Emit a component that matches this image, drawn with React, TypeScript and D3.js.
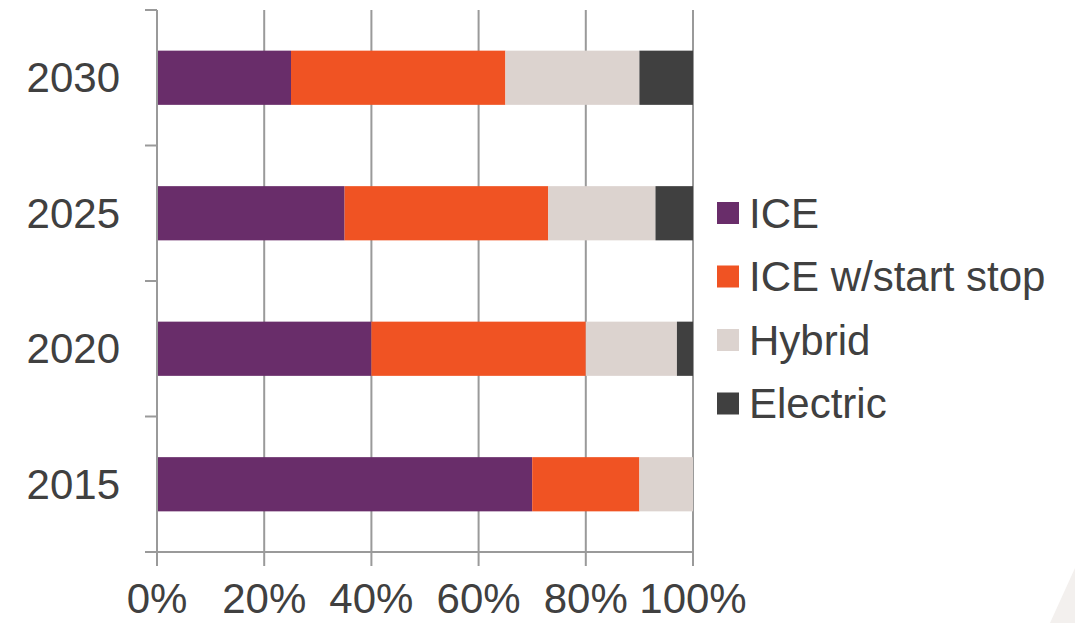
import React from "react";
import * as d3 from "d3";

const years = ["2030", "2025", "2020", "2015"];
const seriesNames = ["ICE", "ICE w/start stop", "Hybrid", "Electric"];
const iceShare = [25, 35, 40, 70];
const startStopShare = [40, 38, 40, 20];
const hybridShare = [25, 20, 17, 10];
const electricShare = [10, 7, 3, 0];
const seriesColors = ["#692d6a", "#f05323", "#dcd3cf", "#404040"];
const xTicks = [0, 20, 40, 60, 80, 100];

const W = 1075;
const H = 623;
const left = 157;
const right = 693;
const top = 10;
const bottom = 552;
const axisColor = "#9a9a9a";
const textColor = "#404040";
const font = "'Liberation Sans', Arial, sans-serif";

export default function App() {
  const rows = years.map((year, i) => ({
    year,
    ICE: iceShare[i],
    "ICE w/start stop": startStopShare[i],
    Hybrid: hybridShare[i],
    Electric: electricShare[i],
  }));
  const stacked = d3.stack<any>().keys(seriesNames)(rows);

  const x = d3.scaleLinear().domain([0, 100]).range([left, right]);
  const y = d3
    .scaleBand()
    .domain(years)
    .range([top, bottom])
    .paddingInner(0.6)
    .paddingOuter(0.3);
  const bandEdges = years.map((yr) => y(yr)! - (y.step() * y.paddingInner()) / 2);
  const tickYs = [top, ...bandEdges.slice(1), bottom];

  const legendX = 717;
  const legendY0 = 213;
  const legendStep = 63.5;

  return (
    <svg
      width={W}
      height={H}
      style={{ position: "absolute", left: 0, top: 0, background: "#fff" }}
      fontFamily={font}
    >
      <polygon points={`${W},568 ${W},${H} 1050,${H}`} fill="#f3f0ee" />
      {/* vertical gridlines */}
      {xTicks.slice(1).map((t) => (
        <line
          key={t}
          x1={x(t)}
          x2={x(t)}
          y1={top}
          y2={bottom + 14}
          stroke={axisColor}
          strokeWidth={2}
        />
      ))}
      {/* stacked bars */}
      {stacked.map((s, si) =>
        s.map((d, di) => (
          <rect
            key={`${si}-${di}`}
            x={x(d[0])}
            y={y(years[di])}
            width={x(d[1]) - x(d[0])}
            height={y.bandwidth()}
            fill={seriesColors[si]}
          />
        ))
      )}
      {/* y axis */}
      <line x1={left} x2={left} y1={top} y2={bottom + 14} stroke={axisColor} strokeWidth={2} />
      {tickYs.map((ty, i) => (
        <line key={i} x1={left - 12} x2={left} y1={ty} y2={ty} stroke={axisColor} strokeWidth={2} />
      ))}
      {/* x axis */}
      <line x1={left} x2={right} y1={bottom} y2={bottom} stroke={axisColor} strokeWidth={2} />
      {xTicks.map((t) => (
        <text
          key={t}
          x={x(t)}
          y={613}
          textAnchor="middle"
          fontSize={42}
          fill={textColor}
        >
          {t}%
        </text>
      ))}
      {years.map((yr) => (
        <text
          key={yr}
          x={120}
          y={y(yr)! + y.bandwidth() / 2}
          dy="0.35em"
          textAnchor="end"
          fontSize={42}
          fill={textColor}
        >
          {yr}
        </text>
      ))}
      {/* legend */}
      {seriesNames.map((name, i) => (
        <g key={name} transform={`translate(${legendX},${legendY0 + i * legendStep})`}>
          <rect x={0} y={-11} width={22} height={22} fill={seriesColors[i]} />
          <text x={32} y={0} dy="0.35em" fontSize={42} fill={textColor}>
            {name}
          </text>
        </g>
      ))}
    </svg>
  );
}
